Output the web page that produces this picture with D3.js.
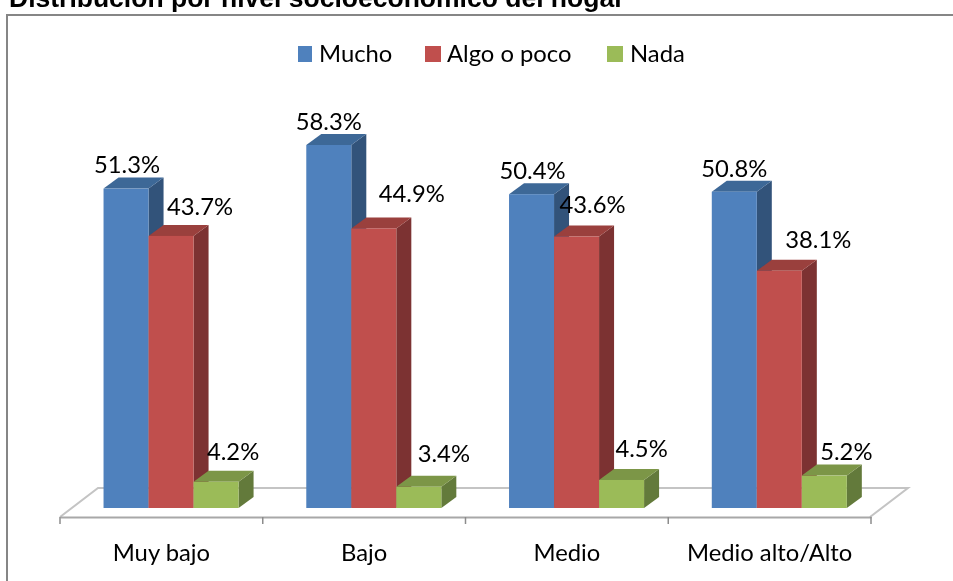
<!DOCTYPE html>
<html><head><meta charset="utf-8">
<script src="https://cdn.jsdelivr.net/npm/d3@7/dist/d3.min.js"></script>
<style>html,body{margin:0;padding:0;background:#fff;overflow:hidden}svg{display:block}</style>
</head><body><svg id="c" width="953" height="581"></svg>
<script>
const categories = ["Muy bajo","Bajo","Medio","Medio alto/Alto"];
const seriesNames = ["Mucho","Algo o poco","Nada"];
const mucho = [51.3,58.3,50.4,50.8];
const algo = [43.7,44.9,43.6,38.1];
const nada = [4.2,3.4,4.5,5.2];
const chartTitle = "Distribución por nivel socioeconómico del hogar";
const allSeries = [mucho,algo,nada];
const front = ["#4f81bd","#c0504d","#9bbb59"];
const topC = ["#3d6797","#9a3f3c","#7c9647"];
const side = ["#31527a","#7b3230","#647a3a"];
const DX = 15, DY = 11;
// hand placement of the value labels, relative to the top of each bar
const labelDx = [[1,0,1,0],[29,38,16,39],[17,25,20,22]];
const labelDy = [[-16,-15,-15,-15],[-21,-26,-24,-23],[-22,-25,-23,-16]];
const svg = d3.select("#c");
const font = "Lato, Carlito, sans-serif";
const fs = 23.8;

const defs = svg.append("defs");
defs.append("filter").attr("id","soft").attr("x","-2%").attr("y","-2%").attr("width","104%").attr("height","104%")
  .append("feGaussianBlur").attr("stdDeviation",0.45);
const root = svg.append("g").attr("filter","url(#soft)");
root.append("rect").attr("x",0).attr("y",0).attr("width",953).attr("height",581).attr("fill","#fff");

root.append("text").attr("x",9).attr("y",6.5).attr("font-family","Liberation Sans").attr("font-weight","bold").attr("font-size",26.5).attr("fill","#000").text(chartTitle);
root.append("rect").attr("x",7).attr("y",15).attr("width",960).attr("height",590).attr("fill","none").attr("stroke","#868686").attr("stroke-width",2);

const x = d3.scaleBand().domain(categories).range([60,871]);
const inner = d3.scaleBand().domain(d3.range(3)).range([0,x.bandwidth()]).paddingOuter(0.752).paddingInner(0).align(0.643);
const y = d3.scaleLinear().domain([0,58.3]).range([508,145]);

// floor
root.append("path").attr("d",d3.line()([[60,517],[98,488],[908,488],[870,517]])).attr("fill","none").attr("stroke","#c4c4c4").attr("stroke-width",2);
const axis = d3.axisBottom(x).tickSize(0).tickPadding(27);
const ax = root.append("g").attr("transform","translate(0,517)").call(axis);
ax.select(".domain").attr("stroke","#a8a8a8").attr("stroke-width",2);
ax.selectAll("text").attr("font-family",font).attr("font-size",fs).attr("fill","#000");
const edges = categories.map(c=>x(c)).concat([x.range()[1]]);
ax.selectAll("line.edge").data(edges).join("line").attr("class","edge").attr("x1",d=>d).attr("x2",d=>d).attr("y1",0).attr("y2",7).attr("stroke","#8c8c8c").attr("stroke-width",1.5);

// bars
categories.forEach((c,i)=>{
  const g = root.append("g");
  [0,1,2].forEach(s=>{
    const v = allSeries[s][i];
    const x0 = x(c)+inner(s), w = inner.bandwidth(), y0 = y(v), b = y(0);
    g.append("path").attr("fill",side[s]).attr("d",d3.line()([[x0+w,y0],[x0+w+DX,y0-DY],[x0+w+DX,b-DY],[x0+w,b]]));
    g.append("path").attr("fill",topC[s]).attr("d",d3.line()([[x0,y0],[x0+DX,y0-DY],[x0+w+DX,y0-DY],[x0+w,y0]]));
    g.append("rect").attr("x",x0).attr("y",y0).attr("width",w).attr("height",b-y0).attr("fill",front[s]);
  });
});
// labels
categories.forEach((c,i)=>{
  allSeries.forEach((arr,s)=>{
    const v = arr[i];
    root.append("text").attr("x",x(c)+inner(s)+inner.bandwidth()/2+labelDx[s][i]).attr("y",y(v)+labelDy[s][i]).attr("text-anchor","middle")
      .attr("font-family",font).attr("font-size",fs).attr("fill","#000").text(v.toFixed(1)+"%");
  });
});
// legend
const legendX = [[298,319],[425,447],[607,630]];
seriesNames.forEach((n,s)=>{
  root.append("rect").attr("x",legendX[s][0]).attr("y",46).attr("width",s==0?14:16).attr("height",16).attr("fill",front[s]);
  root.append("text").attr("x",legendX[s][1]).attr("y",62).attr("font-family",font).attr("font-size",fs).attr("fill","#000").text(n);
});
</script></body></html>
